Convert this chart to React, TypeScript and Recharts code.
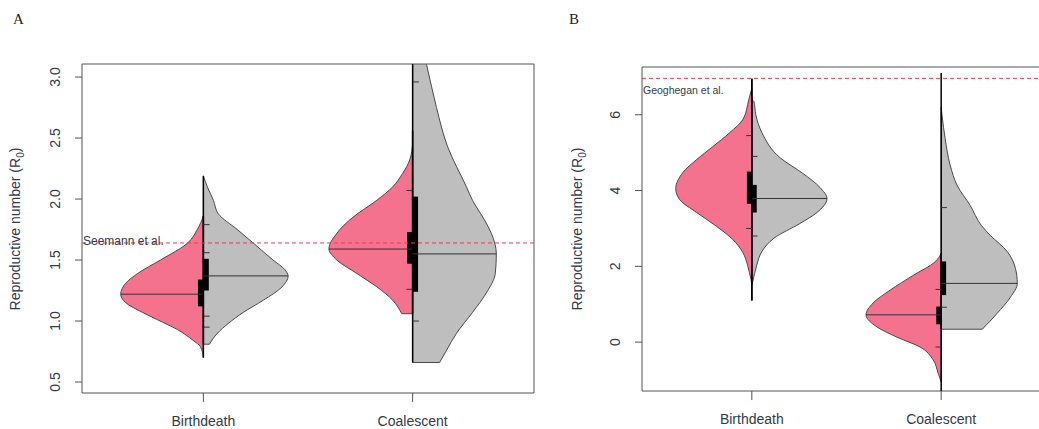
import React from "react";
import { ComposedChart, Area, XAxis, YAxis, ReferenceLine, ReferenceArea } from "recharts";

const categories = ["Birthdeath", "Coalescent"];

// half-violin outlines: [R0 value, half width in x units]
const aBirthPink = [[0.7, 0], [0.79, 0.014], [0.84, 0.048], [0.93, 0.124], [1.01, 0.219], [1.07, 0.29], [1.15, 0.371], [1.22, 0.395], [1.31, 0.371], [1.39, 0.314], [1.5, 0.205], [1.64, 0.075], [1.75, 0.029], [1.86, 0]];
const aBirthGray = [[0.81, 0.029], [0.9, 0.067], [0.98, 0.119], [1.07, 0.19], [1.17, 0.286], [1.28, 0.376], [1.37, 0.405], [1.42, 0.39], [1.5, 0.333], [1.64, 0.238], [1.75, 0.162], [1.88, 0.071], [1.99, 0.048], [2.1, 0.019], [2.19, 0]];
const aCoalPink = [[1.06, 0.052], [1.17, 0.095], [1.28, 0.171], [1.39, 0.267], [1.5, 0.362], [1.59, 0.4], [1.72, 0.362], [1.85, 0.286], [1.99, 0.171], [2.1, 0.095], [2.21, 0.048], [2.32, 0.014], [2.46, 0]];
const aCoalGray = [[0.66, 0.129], [0.76, 0.162], [0.9, 0.21], [1.07, 0.286], [1.23, 0.352], [1.39, 0.395], [1.55, 0.4], [1.72, 0.376], [1.83, 0.343], [1.99, 0.286], [2.1, 0.257], [2.43, 0.167], [2.75, 0.114], [3.1, 0.067], [3.4, 0.024]];

const bBirthPink = [[1.55, 0], [1.66, 0.005], [2.0, 0.021], [2.37, 0.048], [2.71, 0.101], [3.05, 0.185], [3.42, 0.291], [3.76, 0.381], [4.05, 0.402], [4.47, 0.365], [4.82, 0.291], [5.16, 0.206], [5.53, 0.116], [5.87, 0.048], [6.4, 0.016], [6.7, 0]];
const bBirthGray = [[1.5, 0], [1.6, 0.005], [2.03, 0.026], [2.39, 0.053], [2.74, 0.116], [3.13, 0.254], [3.42, 0.344], [3.79, 0.397], [4.08, 0.36], [4.45, 0.27], [4.87, 0.148], [5.53, 0.053], [6.0, 0.021], [6.35, 0.011], [6.4, 0]];
const bCoalPink = [[-1.05, 0], [-0.82, 0.016], [-0.47, 0.042], [-0.13, 0.111], [0.13, 0.233], [0.4, 0.339], [0.72, 0.397], [1.03, 0.36], [1.37, 0.27], [1.76, 0.148], [2.12, 0.032], [2.34, 0]];
const bCoalGray = [[0.34, 0.217], [0.76, 0.296], [1.18, 0.365], [1.55, 0.402], [1.95, 0.392], [2.39, 0.349], [2.82, 0.259], [3.08, 0.212], [3.61, 0.153], [4.13, 0.085], [4.66, 0.048], [5.37, 0.021], [5.97, 0.005], [6.2, 0]];

// medians, interquartile boxes, whisker ranges (Birthdeath, Coalescent)
const aPinkMedian = [1.22, 1.59];
const aGrayMedian = [1.37, 1.55];
const aPinkBox = [[1.12, 1.34], [1.47, 1.73]];
const aGrayBox = [[1.25, 1.51], [1.24, 2.02]];
const aPinkWhisker = [[0.7, 1.86], [1.06, 2.56]];
const aGrayWhisker = [[0.81, 2.19], [0.66, 3.2]];
const bPinkMedian = [4.03, 0.72];
const bGrayMedian = [3.79, 1.55];
const bPinkBox = [[3.65, 4.5], [0.47, 0.94]];
const bGrayBox = [[3.42, 4.15], [1.24, 2.13]];
const bPinkWhisker = [[1.1, 6.95], [-1.35, 2.34]];
const bGrayWhisker = [[1.1, 6.95], [0.34, 7.1]];

// small quantile marks: [category, side (-1 left / 1 right), value]
const aMarks = [[1, 1, 1.79], [1, 1, 1.56], [1, 1, 1.04], [1, 1, 0.95], [2, -1, 2.07], [2, -1, 1.26], [2, 1, 2.96], [2, 1, 1.0]];
const bMarks = [[1, -1, 5.45], [1, -1, 3.0], [1, 1, 4.9], [1, 1, 2.8], [2, -1, 1.39], [2, -1, -0.13], [2, 1, 0.92], [2, 1, 3.55]];

const aTicks = [0.5, 1.0, 1.5, 2.0, 2.5, 3.0];
const bTicks = [0, 2, 4, 6];

const PINK = "#f5728f";
const GRAY = "#bebebe";
const TEXT = "#333a48";
const FONT = "'Liberation Sans', Arial, sans-serif";
const X_DOMAIN = [0.42, 2.58];

type Half = { key: string; c: number; side: number; pts: number[][]; fill: string; median: number; box: number[]; whisker: number[] };

const halvesFor = (
  pre: string,
  pink: number[][][],
  gray: number[][][],
  pm: number[], gm: number[], pb: number[][], gb: number[][], pw: number[][], gw: number[][]
): Half[] => {
  const out: Half[] = [];
  [0, 1].forEach((i) => {
    out.push({ key: `${pre}p${i}`, c: i + 1, side: -1, pts: pink[i], fill: PINK, median: pm[i], box: pb[i], whisker: pw[i] });
    out.push({ key: `${pre}g${i}`, c: i + 1, side: 1, pts: gray[i], fill: GRAY, median: gm[i], box: gb[i], whisker: gw[i] });
  });
  return out;
};

const aHalves = halvesFor("a", [aBirthPink, aCoalPink], [aBirthGray, aCoalGray], aPinkMedian, aGrayMedian, aPinkBox, aGrayBox, aPinkWhisker, aGrayWhisker);
const bHalves = halvesFor("b", [bBirthPink, bCoalPink], [bBirthGray, bCoalGray], bPinkMedian, bGrayMedian, bPinkBox, bGrayBox, bPinkWhisker, bGrayWhisker);

const widthAt = (pts: number[][], y: number) => {
  const hit = pts.find((p) => Math.abs(p[0] - y) < 1e-9);
  return hit ? hit[1] : 0;
};

const YTick = (props: any) => {
  const { x, y, payload, digits } = props;
  const tx = x - 18;
  return (
    <text x={tx} y={y} transform={`rotate(-90, ${tx}, ${y})`} textAnchor="middle" dominantBaseline="central" fontSize={14} fontFamily={FONT} fill={TEXT}>
      {Number(payload.value).toFixed(digits)}
    </text>
  );
};

const renderHalves = (halves: Half[]) => {
  const els: React.ReactNode[] = [];
  halves.forEach((h) => {
    els.push(
      <Area
        key={`${h.key}-area`}
        data={h.pts.map(([y, w]) => ({ y, w }))}
        dataKey={(d: any) => (h.side < 0 ? [h.c - d.w, h.c] : [h.c, h.c + d.w])}
        type="monotone"
        fill={h.fill}
        fillOpacity={1}
        stroke="#4a4a4a"
        strokeWidth={1}
        dot={false}
        activeDot={false}
        isAnimationActive={false}
      />
    );
  });
  halves.forEach((h) => {
    const first = h.pts[0];
    if (first[1] > 0) {
      els.push(
        <ReferenceLine key={`${h.key}-base`} segment={[{ x: h.c, y: first[0] }, { x: h.c + h.side * first[1], y: first[0] }]} stroke="#4a4a4a" ifOverflow="hidden" />
      );
    }
    els.push(
      <ReferenceLine key={`${h.key}-whisk`} segment={[{ x: h.c, y: h.whisker[0] }, { x: h.c, y: h.whisker[1] }]} stroke="#000" strokeWidth={1.5} ifOverflow="hidden" />
    );
    els.push(
      <ReferenceLine key={`${h.key}-med`} segment={[{ x: h.c, y: h.median }, { x: h.c + h.side * widthAt(h.pts, h.median), y: h.median }]} stroke="#333" ifOverflow="hidden" />
    );
    els.push(
      <ReferenceArea
        key={`${h.key}-box`}
        x1={h.side < 0 ? h.c - 0.026 : h.c}
        x2={h.side < 0 ? h.c : h.c + 0.026}
        y1={h.box[0]}
        y2={h.box[1]}
        fill="#000"
        fillOpacity={1}
        stroke="none"
        ifOverflow="hidden"
      />
    );
  });
  return els;
};

const renderMarks = (marks: number[][], pre: string) =>
  marks.map(([c, side, y], i) => (
    <ReferenceLine key={`${pre}-mark-${i}`} segment={[{ x: c, y }, { x: c + side * 0.03, y }]} stroke="#333" ifOverflow="hidden" />
  ));

type PanelProps = {
  width: number;
  margin: { top: number; right: number; bottom: number; left: number };
  yDomain: number[];
  yTicks: number[];
  digits: number;
  halves: Half[];
  marks: number[][];
  refValue: number;
  refText: string;
  refFont: number;
  refDy: number;
  pre: string;
};

const Panel = (p: PanelProps) => (
  <ComposedChart width={p.width} height={429} layout="vertical" margin={p.margin}>
    <XAxis
      type="number"
      dataKey="x"
      domain={X_DOMAIN}
      ticks={[1, 2]}
      tickFormatter={(v: number) => categories[v - 1] ?? ""}
      allowDataOverflow
      axisLine={false}
      tickSize={9}
      tickMargin={14}
      tickLine={{ stroke: "#555" }}
      tick={{ fontSize: 14, fontFamily: FONT, fill: TEXT }}
      height={30}
    />
    <YAxis
      type="number"
      dataKey="y"
      domain={p.yDomain}
      ticks={p.yTicks}
      allowDataOverflow
      reversed
      axisLine={false}
      tickSize={7}
      tickLine={{ stroke: "#555" }}
      tick={<YTick digits={p.digits} />}
      width={52}
    />
    {renderHalves(p.halves)}
    {renderMarks(p.marks, p.pre)}
    <ReferenceLine
      y={p.refValue}
      stroke="#f03c46"
      strokeDasharray="4 3"
      label={(lp: any) => {
        const vb = lp.viewBox || {};
        return (
          <text x={(vb.x ?? 0) + 1} y={(vb.y ?? 0) + p.refDy} dominantBaseline="central" fontSize={p.refFont} fontFamily={FONT} fill={TEXT}>
            {p.refText}
          </text>
        );
      }}
    />
    <ReferenceArea x1={X_DOMAIN[0]} x2={X_DOMAIN[1]} y1={p.yDomain[0]} y2={p.yDomain[1]} fill="none" stroke="#555" strokeWidth={1} />
  </ComposedChart>
);

const YTitle = ({ left, top }: { left: number; top: number }) => (
  <div
    style={{
      position: "absolute",
      left,
      top,
      transform: "translate(-50%, -50%) rotate(-90deg)",
      whiteSpace: "nowrap",
      fontFamily: FONT,
      fontSize: 14,
      color: TEXT,
      lineHeight: "16px",
    }}
  >
    Reproductive number (R<sub style={{ fontSize: 10 }}>0</sub>)
  </div>
);

const Letter = ({ left, text }: { left: number; text: string }) => (
  <div style={{ position: "absolute", left, top: 11, fontFamily: "'Liberation Serif', 'DejaVu Serif', serif", fontSize: 15, color: "#222" }}>{text}</div>
);

export default function App() {
  return (
    <div style={{ position: "fixed", left: 0, top: 0, width: 1039, height: 429, overflow: "hidden", background: "#fff" }}>
      <div style={{ position: "absolute", left: 0, top: 0 }}>
        <Panel
          width={560}
          margin={{ top: 64, right: 26, bottom: 6, left: 30 }}
          yDomain={[0.41, 3.107]}
          yTicks={aTicks}
          digits={1}
          halves={aHalves}
          marks={aMarks}
          refValue={1.64}
          refText="Seemann et al."
          refFont={12}
          refDy={-2}
          pre="a"
        />
      </div>
      <div style={{ position: "absolute", left: 540, top: 0 }}>
        <Panel
          width={531}
          margin={{ top: 67, right: 20, bottom: 8, left: 50 }}
          yDomain={[-1.29, 7.26]}
          yTicks={bTicks}
          digits={0}
          halves={bHalves}
          marks={bMarks}
          refValue={6.96}
          refText="Geoghegan et al."
          refFont={10.5}
          refDy={11.5}
          pre="b"
        />
      </div>
      <Letter left={13} text="A" />
      <Letter left={569} text="B" />
      <YTitle left={18} top={229} />
      <YTitle left={580} top={229} />
    </div>
  );
}
